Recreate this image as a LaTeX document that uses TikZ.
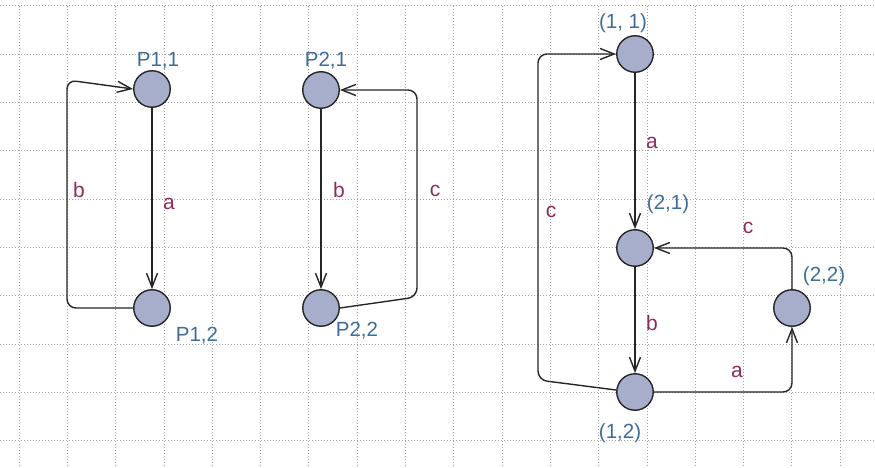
\documentclass[tikz,border=0pt]{standalone}
\usepackage{fontspec}
\setmainfont{Liberation Sans}
\usepackage{xcolor}
\usetikzlibrary{arrows.meta, positioning}

\definecolor{statefill}{HTML}{A7AECB}
\definecolor{statename}{HTML}{3D6D9B}
\definecolor{eventname}{HTML}{8E2C5E}

\tikzset{
	state/.style={circle, draw=black!85, fill=statefill, line width=1.4pt, minimum size=36.5pt, inner sep=0pt},
	sname/.style={text=statename, font=\fontsize{20.5}{20.5}\selectfont, inner sep=0pt},
	ename/.style={text=eventname, font=\fontsize{21}{21}\selectfont, inner sep=0pt},
	trans/.style={->, line width=1.4pt, draw=black!85, rounded corners=9pt},
	gridline/.style={gray!75, line width=0.8pt, dash pattern=on 1pt off 2pt}
}

\begin{document}
\begin{tikzpicture}[> = {Straight Barb[length=14pt, width=11pt]}, x=1pt, y=-1pt]
	\useasboundingbox (0,0) rectangle (875,468);
	\fill[white] (0,0) rectangle (875,468);

	% grille pointillee
	\foreach \i in {0,...,17}
		\draw[gridline] (19+48.3*\i, 5.8) -- (19+48.3*\i, 468);
	\foreach \j in {0,...,9}
		\draw[gridline] (0, 5.8+48.3*\j) -- (875, 5.8+48.3*\j);

	% premier processus
	\node[state] (p11) at (152,89) {};
	\node[state] (p12) at (152,308) {};
	\node[sname] (p11name) at (158,61) {P1,1};
	\node[sname] (p12name) at (197,336) {P1,2};
	\draw[trans] (p11) -- (p12);
	\draw[trans] (p12.west) -- (67,308) -- (67,80) -- (p11.west);
	\node[ename] (p1a) at (169,204) {a};
	\node[ename] (p1b) at (79,190) {b};

	% second processus
	\node[state] (p21) at (321,90) {};
	\node[state] (p22) at (321,308) {};
	\node[sname] (p21name) at (326,61) {P2,1};
	\node[sname] (p22name) at (357,331) {P2,2};
	\draw[trans] (p21) -- (p22);
	\draw[trans] (p22.east) -- (417,297) -- (417,90) -- (p21.east);
	\node[ename] (p2b) at (339,190) {b};
	\node[ename] (p2c) at (435,191) {c};

	% produit des deux
	\node[state] (q11) at (635,54) {};
	\node[state] (q21) at (635,248) {};
	\node[state] (q12) at (635,392) {};
	\node[state] (q22) at (792,308) {};
	\node[sname] (q11name) at (623,23) {(1, 1)};
	\node[sname] (q21name) at (668,204) {(2,1)};
	\node[sname] (q12name) at (620,433) {(1,2)};
	\node[sname] (q22name) at (824,276) {(2,2)};
	\draw[trans] (q11) -- (q21);
	\draw[trans] (q21) -- (q12);
	\draw[trans] (q12.east) -- (792,392) -- (q22.south);
	\draw[trans] (q22.north) -- (792,248) -- (q21.east);
	\draw[trans] (q12.west) ++(0,-2) -- (538,380) -- (538,54) -- (q11.west);
	\node[ename] (qa1) at (652,143) {a};
	\node[ename] (qb) at (652,323) {b};
	\node[ename] (qc1) at (551,212) {c};
	\node[ename] (qc2) at (748,228) {c};
	\node[ename] (qa2) at (737,372) {a};
\end{tikzpicture}
\end{document}
